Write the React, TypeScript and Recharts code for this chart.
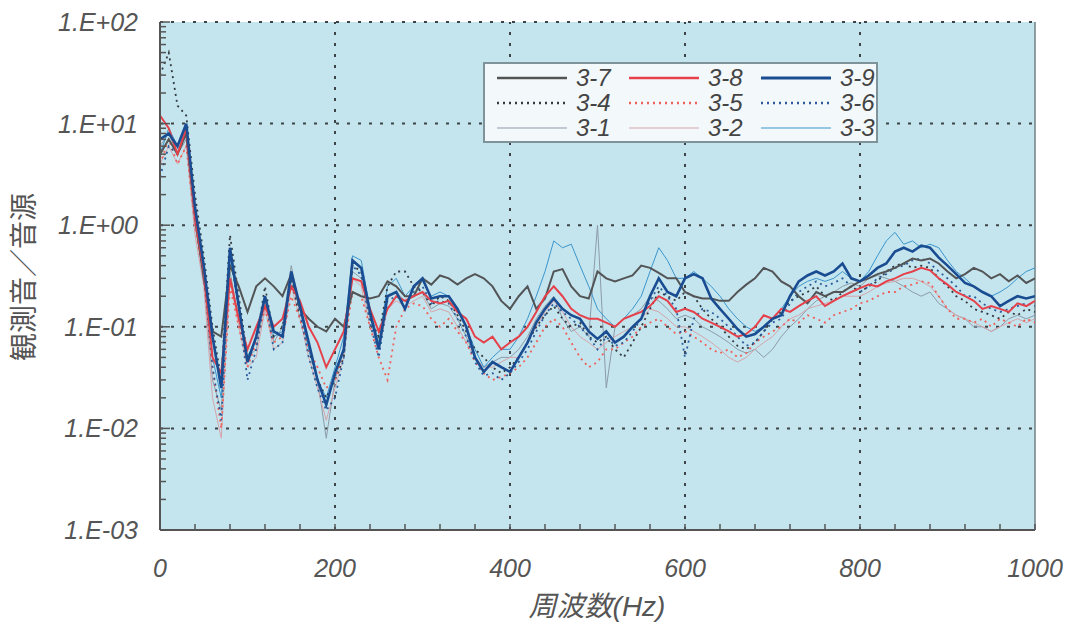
import { LineChart, Line, XAxis, YAxis, ReferenceArea, ReferenceLine } from 'recharts'

// frequency (Hz)
const freqs = [
  0, 10, 20, 30, 40, 50, 60, 70, 80, 90, 100, 110, 120, 130, 140, 150, 160, 170, 180, 190,
  200, 210, 220, 230, 240, 250, 260, 270, 280, 290, 300, 310, 320, 330, 340, 350, 360, 370, 380, 390,
  400, 410, 420, 430, 440, 450, 460, 470, 480, 490, 500, 510, 520, 530, 540, 550, 560, 570, 580, 590,
  600, 610, 620, 630, 640, 650, 660, 670, 680, 690, 700, 710, 720, 730, 740, 750, 760, 770, 780, 790,
  800, 810, 820, 830, 840, 850, 860, 870, 880, 890, 900, 910, 920, 930, 940, 950, 960, 970, 980, 990,
  1000,
]

const s37 = [
  5, 7, 5, 8, 1.2, 0.3, 0.09, 0.08, 0.4, 0.25, 0.14, 0.25, 0.3, 0.25, 0.2, 0.33, 0.15, 0.12, 0.1, 0.09,
  0.12, 0.1, 0.22, 0.2, 0.19, 0.2, 0.28, 0.25, 0.2, 0.2, 0.3, 0.26, 0.32, 0.3, 0.26, 0.3, 0.33, 0.3, 0.25, 0.18,
  0.15, 0.2, 0.25, 0.15, 0.19, 0.35, 0.37, 0.25, 0.2, 0.19, 0.35, 0.3, 0.28, 0.3, 0.32, 0.4, 0.38, 0.34, 0.3, 0.3,
  0.22, 0.2, 0.19, 0.19, 0.18, 0.18, 0.22, 0.26, 0.3, 0.38, 0.35, 0.28, 0.25, 0.2, 0.17, 0.22, 0.2, 0.22, 0.22, 0.25,
  0.28, 0.3, 0.33, 0.35, 0.38, 0.42, 0.47, 0.45, 0.47, 0.42, 0.35, 0.3, 0.33, 0.38, 0.35, 0.3, 0.33, 0.28, 0.32, 0.27,
  0.3,
]
const s38 = [
  12, 9, 5, 9, 1.2, 0.35, 0.05, 0.035, 0.3, 0.12, 0.06, 0.1, 0.16, 0.1, 0.12, 0.25, 0.18, 0.1, 0.07, 0.04,
  0.06, 0.09, 0.3, 0.28, 0.15, 0.09, 0.15, 0.2, 0.18, 0.2, 0.22, 0.18, 0.17, 0.18, 0.14, 0.12, 0.08, 0.07, 0.08, 0.06,
  0.07, 0.08, 0.1, 0.14, 0.2, 0.25, 0.2, 0.15, 0.13, 0.12, 0.12, 0.11, 0.1, 0.12, 0.13, 0.14, 0.16, 0.2, 0.18, 0.14,
  0.15, 0.14, 0.12, 0.11, 0.1, 0.09, 0.08, 0.085, 0.1, 0.13, 0.12, 0.15, 0.14, 0.16, 0.18, 0.2, 0.16, 0.18, 0.2, 0.22,
  0.24, 0.26, 0.25, 0.28, 0.3, 0.33, 0.35, 0.38, 0.36, 0.3, 0.26, 0.22, 0.2, 0.18, 0.15, 0.16, 0.15, 0.14, 0.17, 0.16,
  0.18,
]
const s39 = [
  7, 8, 6, 10, 1.5, 0.4, 0.08, 0.025, 0.6, 0.16, 0.045, 0.08, 0.2, 0.09, 0.08, 0.35, 0.16, 0.07, 0.03, 0.017,
  0.035, 0.06, 0.45, 0.38, 0.14, 0.06, 0.2, 0.22, 0.15, 0.25, 0.3, 0.19, 0.2, 0.2, 0.15, 0.1, 0.05, 0.036, 0.045, 0.04,
  0.036, 0.05, 0.07, 0.11, 0.15, 0.19, 0.15, 0.13, 0.12, 0.09, 0.076, 0.09, 0.07, 0.08, 0.1, 0.12, 0.2, 0.3, 0.22, 0.2,
  0.3, 0.33, 0.3, 0.19, 0.15, 0.12, 0.095, 0.08, 0.085, 0.1, 0.12, 0.13, 0.2, 0.28, 0.32, 0.35, 0.32, 0.35, 0.42, 0.3,
  0.28, 0.32, 0.38, 0.42, 0.55, 0.6, 0.55, 0.63, 0.6, 0.48, 0.4, 0.33, 0.27, 0.25, 0.22, 0.2, 0.16, 0.18, 0.2, 0.19,
  0.2,
]
const s34 = [
  30, 50, 15, 12, 2, 0.5, 0.1, 0.03, 0.8, 0.2, 0.05, 0.07, 0.25, 0.08, 0.1, 0.3, 0.12, 0.06, 0.03, 0.02,
  0.03, 0.05, 0.4, 0.35, 0.12, 0.08, 0.25, 0.35, 0.35, 0.25, 0.22, 0.16, 0.2, 0.18, 0.13, 0.09, 0.06, 0.05, 0.04, 0.035,
  0.04, 0.05, 0.07, 0.1, 0.13, 0.16, 0.12, 0.1, 0.11, 0.08, 0.07, 0.08, 0.06, 0.05, 0.07, 0.1, 0.15, 0.22, 0.2, 0.18,
  0.22, 0.2, 0.15, 0.12, 0.1, 0.08, 0.065, 0.06, 0.07, 0.09, 0.12, 0.14, 0.18, 0.2, 0.22, 0.25, 0.2, 0.18, 0.22, 0.25,
  0.22, 0.25, 0.28, 0.35, 0.4, 0.42, 0.38, 0.4, 0.38, 0.3, 0.25, 0.2, 0.18, 0.15, 0.14, 0.13, 0.12, 0.14, 0.13, 0.15,
  0.14,
]
const s35 = [
  4, 7, 4, 6, 1, 0.3, 0.04, 0.01, 0.25, 0.1, 0.04, 0.07, 0.15, 0.07, 0.08, 0.2, 0.12, 0.06, 0.04, 0.025,
  0.03, 0.06, 0.22, 0.2, 0.1, 0.05, 0.03, 0.1, 0.15, 0.17, 0.16, 0.12, 0.1, 0.12, 0.09, 0.07, 0.045, 0.035, 0.03, 0.032,
  0.035, 0.04, 0.05, 0.07, 0.1, 0.12, 0.1, 0.07, 0.05, 0.04, 0.045, 0.06, 0.06, 0.07, 0.08, 0.1, 0.11, 0.12, 0.1, 0.085,
  0.09, 0.08, 0.07, 0.06, 0.055, 0.06, 0.05, 0.055, 0.07, 0.08, 0.09, 0.1, 0.12, 0.11, 0.13, 0.12, 0.11, 0.13, 0.14, 0.15,
  0.17, 0.18, 0.2, 0.22, 0.22, 0.25, 0.26, 0.28, 0.27, 0.2, 0.15, 0.12, 0.12, 0.11, 0.12, 0.1, 0.12, 0.11, 0.1, 0.12,
  0.11,
]
const s36 = [
  3, 6, 5, 8, 1.3, 0.35, 0.04, 0.012, 0.55, 0.15, 0.03, 0.06, 0.2, 0.06, 0.07, 0.3, 0.14, 0.05, 0.025, 0.015,
  0.02, 0.05, 0.4, 0.32, 0.11, 0.05, 0.18, 0.2, 0.17, 0.22, 0.25, 0.17, 0.18, 0.17, 0.12, 0.08, 0.045, 0.033, 0.035, 0.03,
  0.035, 0.045, 0.06, 0.09, 0.13, 0.17, 0.14, 0.12, 0.1, 0.08, 0.06, 0.08, 0.065, 0.07, 0.09, 0.12, 0.18, 0.25, 0.2, 0.15,
  0.05, 0.12, 0.15, 0.14, 0.12, 0.1, 0.08, 0.065, 0.07, 0.09, 0.11, 0.12, 0.17, 0.22, 0.25, 0.28, 0.25, 0.27, 0.3, 0.25,
  0.22, 0.25, 0.3, 0.33, 0.38, 0.4, 0.45, 0.47, 0.42, 0.35, 0.3, 0.25, 0.2, 0.2, 0.17, 0.15, 0.14, 0.15, 0.16, 0.17,
  0.16,
]
const s31 = [
  6, 8, 5, 7, 1, 0.3, 0.03, 0.015, 0.35, 0.12, 0.05, 0.06, 0.18, 0.07, 0.1, 0.4, 0.15, 0.06, 0.03, 0.008,
  0.03, 0.06, 0.35, 0.3, 0.12, 0.07, 0.2, 0.22, 0.18, 0.2, 0.22, 0.15, 0.17, 0.16, 0.12, 0.08, 0.05, 0.04, 0.045, 0.05,
  0.05, 0.06, 0.08, 0.12, 0.16, 0.2, 0.12, 0.09, 0.1, 0.08, 1.0, 0.025, 0.1, 0.12, 0.13, 0.15, 0.2, 0.18, 0.15, 0.12,
  0.13, 0.12, 0.1, 0.09, 0.08, 0.07, 0.06, 0.055, 0.06, 0.05, 0.06, 0.08, 0.1, 0.12, 0.15, 0.18, 0.2, 0.22, 0.25, 0.27,
  0.25, 0.3, 0.32, 0.3, 0.28, 0.25, 0.22, 0.2, 0.22, 0.17, 0.15, 0.13, 0.12, 0.1, 0.1, 0.09, 0.1, 0.12, 0.13, 0.12,
  0.13,
]
const s32 = [
  4, 6, 4, 6, 0.8, 0.25, 0.02, 0.008, 0.3, 0.1, 0.04, 0.05, 0.15, 0.06, 0.07, 0.25, 0.12, 0.05, 0.025, 0.012,
  0.025, 0.05, 0.3, 0.25, 0.1, 0.06, 0.15, 0.18, 0.16, 0.18, 0.2, 0.14, 0.15, 0.14, 0.1, 0.07, 0.05, 0.04, 0.04, 0.045,
  0.05, 0.05, 0.07, 0.1, 0.14, 0.18, 0.14, 0.1, 0.08, 0.07, 0.06, 0.07, 0.08, 0.09, 0.1, 0.12, 0.15, 0.14, 0.12, 0.1,
  0.1, 0.09, 0.08, 0.07, 0.06, 0.05, 0.045, 0.05, 0.06, 0.07, 0.08, 0.1, 0.12, 0.13, 0.15, 0.16, 0.17, 0.18, 0.2, 0.2,
  0.2, 0.22, 0.25, 0.27, 0.28, 0.3, 0.3, 0.28, 0.25, 0.2, 0.15, 0.13, 0.12, 0.11, 0.1, 0.09, 0.1, 0.11, 0.12, 0.11,
  0.12,
]
const s33 = [
  5, 9, 6, 9, 1.5, 0.4, 0.05, 0.02, 0.5, 0.15, 0.05, 0.08, 0.2, 0.08, 0.09, 0.35, 0.15, 0.06, 0.03, 0.02,
  0.04, 0.08, 0.5, 0.45, 0.15, 0.07, 0.25, 0.3, 0.2, 0.25, 0.28, 0.2, 0.22, 0.2, 0.15, 0.1, 0.06, 0.04, 0.05, 0.06,
  0.06, 0.08, 0.12, 0.2, 0.35, 0.7, 0.6, 0.65, 0.4, 0.25, 0.15, 0.12, 0.1, 0.12, 0.15, 0.2, 0.35, 0.6, 0.45, 0.3,
  0.3, 0.35, 0.3, 0.25, 0.2, 0.15, 0.12, 0.1, 0.09, 0.1, 0.12, 0.15, 0.2, 0.25, 0.28, 0.3, 0.28, 0.3, 0.35, 0.3,
  0.28, 0.35, 0.5, 0.7, 0.85, 0.65, 0.7, 0.6, 0.65, 0.6, 0.45, 0.35, 0.3, 0.25, 0.22, 0.2, 0.22, 0.25, 0.3, 0.35,
  0.38,
]

const xTicks = [
  0, 40, 80, 120, 160, 200, 240, 280, 320, 360, 400, 440, 480, 520, 560, 600, 640, 680, 720, 760,
  800, 840, 880, 920, 960, 1000,
]
const xLabels = ['0', '200', '400', '600', '800', '1000']

const yTicks = [
  0.001, 0.002, 0.003, 0.004, 0.005, 0.006, 0.007, 0.008, 0.009,
  0.01, 0.02, 0.03, 0.04, 0.05, 0.06, 0.07, 0.08, 0.09,
  0.1, 0.2, 0.3, 0.4, 0.5, 0.6, 0.7, 0.8, 0.9,
  1, 2, 3, 4, 5, 6, 7, 8, 9,
  10, 20, 30, 40, 50, 60, 70, 80, 90,
  100,
]
const yMajor = [0.001, 0.01, 0.1, 1, 10, 100]
const yLabels = ['1.E-03', '1.E-02', '1.E-01', '1.E+00', '1.E+01', '1.E+02']

const series = [
  { key: 's31', name: '3-1', color: '#8d9ba8', width: 1, dash: undefined },
  { key: 's32', name: '3-2', color: '#d6a4ab', width: 1, dash: undefined },
  { key: 's33', name: '3-3', color: '#3a95cc', width: 1, dash: undefined },
  { key: 's34', name: '3-4', color: '#333a40', width: 1.8, dash: '2 4' },
  { key: 's35', name: '3-5', color: '#f0605a', width: 1.8, dash: '2 4' },
  { key: 's36', name: '3-6', color: '#2c5c9c', width: 1.8, dash: '2 4' },
  { key: 's37', name: '3-7', color: '#525456', width: 2, dash: undefined },
  { key: 's38', name: '3-8', color: '#e5414b', width: 2, dash: undefined },
  { key: 's39', name: '3-9', color: '#1a4c92', width: 2.6, dash: undefined },
]
const legendOrder = ['3-7', '3-8', '3-9', '3-4', '3-5', '3-6', '3-1', '3-2', '3-3']

const values: Record<string, number[]> = { s31, s32, s33, s34, s35, s36, s37, s38, s39 }

const data = freqs.map((f, i) => {
  const row: Record<string, number> = { f }
  for (const s of series) row[s.key] = values[s.key][i]
  return row
})

const font = "'Liberation Sans', Arial, 'Noto Sans CJK JP', sans-serif"
const textColor = '#555'
const gridStroke = '#3d4447'

function YTick({ x, y, payload }: any) {
  const idx = yMajor.indexOf(payload.value)
  const major = idx >= 0
  return (
    <g>
      <line x1={x} x2={x + (major ? 10 : 6)} y1={y} y2={y} stroke="#555" strokeWidth={1.5} />
      {major && (
        <text x={x - 22} y={y} dy={9} textAnchor="end" fontFamily={font} fontStyle="italic"
          fontSize={25} fill={textColor}>
          {yLabels[idx]}
        </text>
      )}
    </g>
  )
}

function XTick({ x, y, payload }: any) {
  const label = payload.value % 200 === 0 ? xLabels[payload.value / 200] : null
  return (
    <g>
      <line x1={x} x2={x} y1={y} y2={y - 6} stroke="#555" strokeWidth={1.5} />
      {label && (
        <text x={x} y={y + 47} textAnchor="middle" fontFamily={font} fontStyle="italic"
          fontSize={25} fill={textColor}>
          {label}
        </text>
      )}
    </g>
  )
}

// axis titles sit at fixed spots, so ignore whatever recharts passes in
function AxisTitle({ tx, ty, rotate, text, italic }: any) {
  return (
    <text x={tx} y={ty} transform={rotate ? `rotate(-90 ${tx} ${ty})` : undefined}
      textAnchor="middle" fontFamily={font} fontStyle={italic ? 'italic' : 'normal'}
      fontSize={28} fill={textColor}>
      {text}
    </text>
  )
}

function LegendBox() {
  return (
    <div style={{
      position: 'absolute', left: 483, top: 62, width: 391, height: 77,
      background: '#f3f8fa', border: '2px solid #7f939b', fontFamily: font,
    }}>
      {legendOrder.map((name, i) => {
        const s = series.find((d) => d.name === name)!
        const col = i % 3
        const row = Math.floor(i / 3)
        return (
          <div key={name} style={{
            position: 'absolute', left: 12 + col * 132, top: 1 + row * 25,
            display: 'flex', alignItems: 'center', height: 25,
          }}>
            <svg width={70} height={10}>
              <line x1={0} x2={70} y1={5} y2={5} stroke={s.color}
                strokeWidth={s.width + (s.width > 1.5 ? 0.6 : 0)} strokeDasharray={s.dash} />
            </svg>
            <span style={{ marginLeft: 9, fontSize: 24, fontStyle: 'italic', color: '#444' }}>{name}</span>
          </div>
        )
      })}
    </div>
  )
}

export default function App() {
  return (
    <div style={{ position: 'absolute', left: 0, top: 0, width: 1074, height: 635, background: '#fff' }}>
      <LineChart width={1074} height={635} data={data}
        margin={{ top: 22, right: 39, bottom: 25, left: 20 }}>
        <XAxis dataKey="f" type="number" domain={[0, 1000]} ticks={xTicks} interval={0}
          tick={<XTick />} tickLine={false} tickSize={0} tickMargin={0} height={80}
          axisLine={{ stroke: '#555', strokeWidth: 2 }} allowDataOverflow
          label={<AxisTitle tx={597} ty={616} text="周波数(Hz)" italic />} />
        <YAxis type="number" scale="log" domain={[0.001, 100]} ticks={yTicks} interval={0}
          tick={<YTick />} tickLine={false} tickSize={0} tickMargin={0} width={140}
          axisLine={{ stroke: '#555', strokeWidth: 2 }} allowDataOverflow
          label={<AxisTitle tx={34} ty={277} rotate text="観測音／音源" />} />
        <ReferenceArea x1={0} x2={1000} y1={0.001} y2={100} fill="#c4e5ee" fillOpacity={1}
          stroke="none" ifOverflow="hidden" />
        {[200, 400, 600, 800].map((v) => (
          <ReferenceLine key={'x' + v} x={v} stroke={gridStroke} strokeWidth={2} strokeDasharray="3 8" />
        ))}
        {[100, 10, 1, 0.1, 0.01].map((v) => (
          <ReferenceLine key={'y' + v} y={v} stroke={gridStroke} strokeWidth={2} strokeDasharray="3 8" />
        ))}
        <ReferenceLine x={1000} stroke="#6f8288" strokeWidth={1.5} />
        {series.map((s) => (
          <Line key={s.key} dataKey={s.key} name={s.name} type="linear" stroke={s.color}
            strokeWidth={s.width} strokeDasharray={s.dash} dot={false} activeDot={false}
            isAnimationActive={false} />
        ))}
      </LineChart>
      <LegendBox />
    </div>
  )
}
